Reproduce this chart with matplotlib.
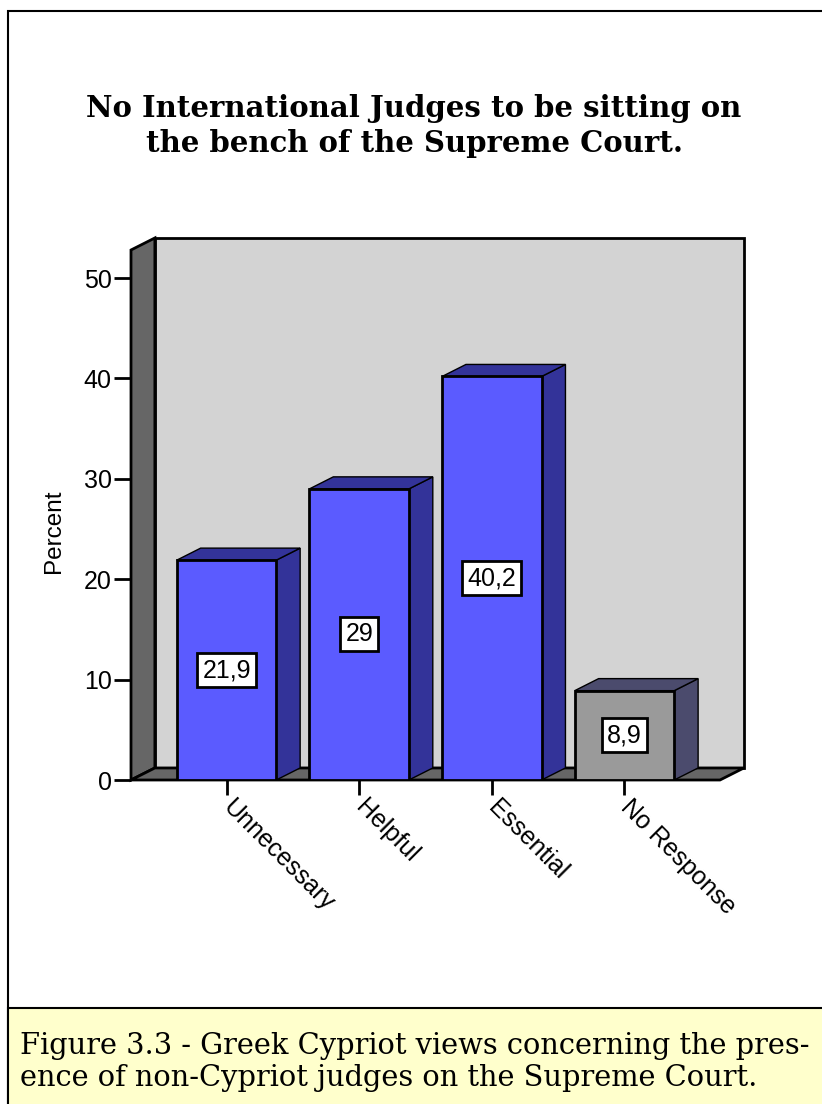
import matplotlib
matplotlib.use("Agg")
import matplotlib.pyplot as plt
from matplotlib.patches import Polygon, Rectangle

# data
categories = ["Unnecessary", "Helpful", "Essential", "No Response"]
percent = [21.9, 29.0, 40.2, 8.9]
yticks = [0, 10, 20, 30, 40, 50]

title = "No International Judges to be sitting on\nthe bench of the Supreme Court."
caption = ("Figure 3.3 - Greek Cypriot views concerning the pres-\n"
           "ence of non-Cypriot judges on the Supreme Court.")

# style
front_col = ["#5B5BFF", "#5B5BFF", "#5B5BFF", "#9A9A9A"]
side_col = ["#333399", "#333399", "#333399", "#4B4B6D"]
wall_col = "#666666"
back_col = "#D3D3D3"
bar_w = 0.75
dx, dy = 0.18, 1.2          # depth of the pseudo 3d effect, in data units
xlo, xhi, ytop = -0.72, 3.72, 52.8

W, H = 822, 1104
fig = plt.figure(figsize=(W / 100, H / 100), dpi=100)
plt.rcParams['font.family'] = ['Liberation Sans', 'DejaVu Sans']

# outer frame and caption box
fig.patches.append(Rectangle((8 / W, -0.1), 1.2, (H - 11) / H + 0.1,
                             transform=fig.transFigure, fill=False,
                             ec="black", lw=1.5))
fig.patches.append(Rectangle((8 / W, -0.1), 1.2, (H - 1008) / H + 0.1,
                             transform=fig.transFigure, fc="#FFFFCC",
                             ec="black", lw=1.5))

fig.text(414 / W, 1 - 126 / H, title, ha="center", va="center",
         family="DejaVu Serif", weight="bold", fontsize=21, linespacing=1.3)
fig.text(20 / W, 1 - 1062 / H, caption, ha="left", va="center",
         family="DejaVu Serif", fontsize=20.8, linespacing=1.2)

ax = fig.add_axes([131 / W, 1 - 780 / H, (720 - 131) / W, (780 - 250) / H])
ax.set_xlim(xlo, xhi)
ax.set_ylim(0, ytop)
for s in ax.spines.values():
    s.set_visible(False)

# walls and floor
ax.add_patch(Polygon([(xlo + dx, dy), (xhi + dx, dy), (xhi + dx, ytop + dy),
                      (xlo + dx, ytop + dy)], fc=back_col, ec="black", lw=2,
                     clip_on=False, zorder=1))
ax.add_patch(Polygon([(xlo, 0), (xlo, ytop), (xlo + dx, ytop + dy),
                      (xlo + dx, dy)], fc=wall_col, ec="black", lw=2,
                     clip_on=False, zorder=2))
ax.add_patch(Polygon([(xlo, 0), (xhi, 0), (xhi + dx, dy), (xlo + dx, dy)],
                     fc=wall_col, ec="black", lw=2, clip_on=False, zorder=2))

for i, v in enumerate(percent):
    l, r = i - bar_w / 2, i + bar_w / 2
    ax.add_patch(Polygon([(r, 0), (r + dx, dy), (r + dx, v + dy), (r, v)],
                         fc=side_col[i], ec="black", lw=1, zorder=3))
    ax.add_patch(Polygon([(l, v), (r, v), (r + dx, v + dy), (l + dx, v + dy)],
                         fc=side_col[i], ec="black", lw=1, zorder=3))
    ax.add_patch(Rectangle((l, 0), bar_w, v, fc=front_col[i], ec="black",
                           lw=2, zorder=4))
    ax.text(i, v / 2, f"{v:g}".replace(".", ","), ha="center", va="center",
            fontsize=18, zorder=5,
            bbox=dict(boxstyle="square,pad=0.2", fc="white", ec="black", lw=2))

ax.set_yticks(yticks)
ax.tick_params(axis="y", length=12, width=2, labelsize=18, pad=2)
ax.set_xticks(range(len(categories)))
ax.set_xticklabels(categories, rotation=-45, ha="left", va="center",
                   rotation_mode="anchor", fontsize=18)
ax.tick_params(axis="x", length=11, width=2, pad=6)
ax.set_ylabel("Percent", fontsize=17.5)
ax.yaxis.set_label_coords(-0.112, 0.47)

fig.savefig("out.png", dpi=100)
